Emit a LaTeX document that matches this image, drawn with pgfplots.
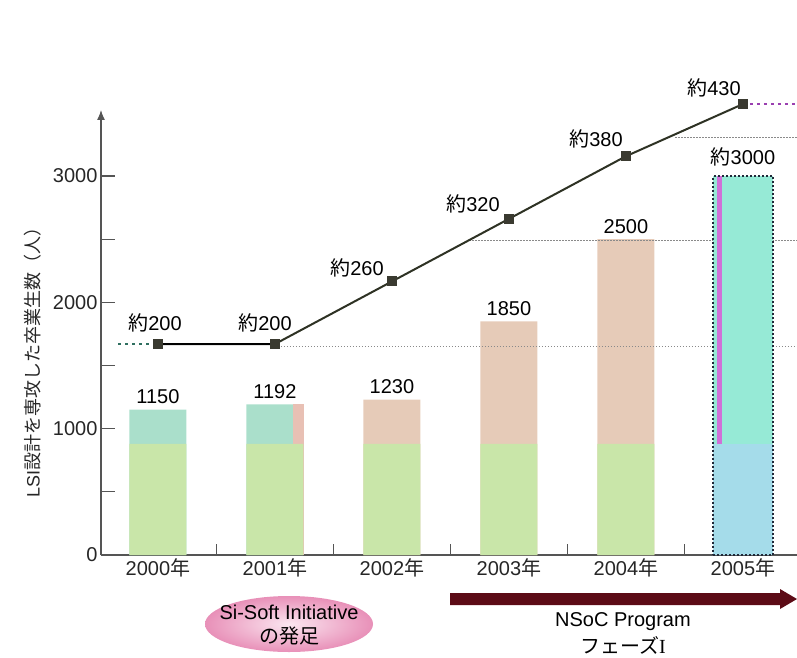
\documentclass[border=0pt]{standalone}
\usepackage{fontspec}
\setmainfont{Liberation Sans}
\newfontfamily\cjk{Noto Sans CJK JP}
\newfontfamily\romanI{Liberation Serif}
\usepackage{pgfplots}
\pgfplotsset{compat=1.18}
\usetikzlibrary{arrows.meta}

\definecolor{axgray}{HTML}{555555}
\definecolor{greenbot}{HTML}{C9E6A9}
\definecolor{tealtop}{HTML}{AADFCB}
\definecolor{pinktop}{HTML}{E6CBB8}
\definecolor{pinkstripe}{HTML}{E8C0B4}
\definecolor{turq}{HTML}{96EAD6}
\definecolor{bluebot}{HTML}{A5DCEA}
\definecolor{magstripe}{HTML}{D070D8}
\definecolor{bordercol}{HTML}{202838}
\definecolor{linecol}{HTML}{2E3224}
\definecolor{markcol}{HTML}{3A3A30}
\definecolor{dotgray}{HTML}{8A8A8A}
\definecolor{dotpurple}{HTML}{9A3FB0}
\definecolor{dotteal}{HTML}{2F6F60}
\definecolor{arrowcol}{HTML}{5C0B16}
\definecolor{ellout}{HTML}{E890B8}
\definecolor{ellin}{HTML}{FBE6F0}

\pgfplotsset{
  base/.style={scale only axis, width=696pt, height=445pt,
    xmin=-0.487, xmax=5.462, clip=false,
    /pgf/number format/assume math mode=true},
  sep/.style={axgray, line width=1.6pt, forget plot},
}
\tikzset{lbl/.style={font=\fontsize{20}{22}\selectfont, inner sep=0pt, anchor=center}}

\begin{document}
\begin{tikzpicture}[font=\fontsize{20}{22}\selectfont]
\useasboundingbox (-101pt,-102pt) rectangle (696pt,555pt);

% bars 2000-2004 and the axes
\begin{axis}[base, ymin=0, ymax=3522,
  axis x line=bottom, axis y line=left,
  axis line style={draw=axgray, line width=1.3pt},
  x axis line style={-},
  y axis line style={-{Latex[length=10pt,width=8pt]}},
  ybar, bar shift=0, bar width=0.487,
  tick align=inside,
  major tick length=14pt,
  tick style={draw=axgray, line width=1.2pt},
  xtick={0,1,2,3,4,5},
  xticklabels={2000{\cjk 年},2001{\cjk 年},2002{\cjk 年},2003{\cjk 年},2004{\cjk 年},2005{\cjk 年}},
  major x tick style={draw=none},
  ytick={0,500,1000,1500,2000,2500,3000},
  yticklabels={0,,1000,,2000,,3000},
  ticklabel style={font=\fontsize{20}{22}\selectfont, text=black!85},
  ylabel={LSI{\cjk 設計を専攻した卒業生数（人）}},
  y label style={at={(axis description cs:-0.098,0.443)}, anchor=center,
    font=\fontsize{18}{20}\selectfont, text=black!85},
]
\addplot[fill=tealtop, draw=none] coordinates {(0,1150) (1,1192)};
\addplot[fill=pinktop, draw=none] coordinates {(2,1230) (3,1850) (4,2500)};
\addplot[fill=pinkstripe, draw=none, bar width=0.094, bar shift=0.197] coordinates {(1,1192)};
\addplot[fill=greenbot, draw=none] coordinates {(0,880) (1,880) (2,880) (3,880) (4,880)};

\node[lbl, yshift=13pt] at (axis cs:0,1150) {1150};
\node[lbl, yshift=13pt] at (axis cs:1,1192) {1192};
\node[lbl, yshift=13pt] at (axis cs:2,1230) {1230};
\node[lbl, yshift=13pt] at (axis cs:3,1850) {1850};
\node[lbl, yshift=13pt] at (axis cs:4,2500) {2500};
\end{axis}

% separators, guide lines and the line (secondary scale)
\begin{axis}[base, ymin=-2.2, ymax=424.3, hide axis]
\addplot[sep] coordinates {(0.5,-2.2) (0.5,8)};
\addplot[sep] coordinates {(1.5,-2.2) (1.5,8)};
\addplot[sep] coordinates {(2.5,-2.2) (2.5,8)};
\addplot[sep] coordinates {(3.5,-2.2) (3.5,8)};
\addplot[sep] coordinates {(4.5,-2.2) (4.5,8)};

\addplot[dotteal, line width=2pt, dash pattern=on 3pt off 4pt] coordinates {(-0.34,200) (-0.07,200)};
\addplot[dotgray, line width=1.2pt, dash pattern=on 1.5pt off 1.5pt] coordinates {(1,198) (5.462,198)};
\addplot[dotgray, line width=1.2pt, dash pattern=on 1.5pt off 1.5pt] coordinates {(2.66,299) (5.462,299)};
\addplot[dotgray, line width=1.2pt, dash pattern=on 1.5pt off 1.5pt] coordinates {(4.42,398) (5.462,398)};
\addplot[dotpurple, line width=2.2pt, dash pattern=on 3pt off 4pt] coordinates {(5,430) (5.462,430)};

\addplot[linecol, line width=2pt, mark=square*, mark size=4pt,
  mark options={fill=markcol, draw=markcol, solid}]
  coordinates {(0,200) (1,200) (2,260) (3,320) (4,380) (5,430)};
\addplot[black, line width=2.2pt, mark=square*, mark size=4pt,
  mark options={fill=markcol, draw=markcol}]
  coordinates {(0,200) (1,200)};

\node[lbl, xshift=-3pt, yshift=21pt] at (axis cs:0,200) {{\cjk 約}200};
\node[lbl, xshift=-10pt, yshift=21pt] at (axis cs:1,200) {{\cjk 約}200};
\node[lbl, xshift=-35pt, yshift=14pt] at (axis cs:2,260) {{\cjk 約}260};
\node[lbl, xshift=-36pt, yshift=15pt] at (axis cs:3,320) {{\cjk 約}320};
\node[lbl, xshift=-30pt, yshift=17pt] at (axis cs:4,380) {{\cjk 約}380};
\node[lbl, xshift=-29pt, yshift=16pt] at (axis cs:5,430) {{\cjk 約}430};
\end{axis}

% the 2005 bar sits over the guide lines
\begin{axis}[base, ymin=0, ymax=3522, hide axis, ybar, bar shift=0, bar width=0.51]
\addplot[fill=turq, draw=none] coordinates {(5,3000)};
\addplot[fill=magstripe, draw=none, bar width=0.05, bar shift=-0.2] coordinates {(5,3000)};
\addplot[fill=bluebot, draw=none] coordinates {(5,880)};
\addplot[fill=none, draw=bordercol, line width=2.4pt, dash pattern=on 2pt off 2pt] coordinates {(5,3000)};
\node[lbl, yshift=19pt] at (axis cs:5,3000) {{\cjk 約}3000};
\end{axis}

% programme notes under the axis
\shade[inner color=ellin, outer color=ellout] (188pt,-69pt) ellipse (84pt and 28pt);
\node[lbl] at (188pt,-57pt) {Si-Soft Initiative};
\node[lbl] at (188pt,-81pt) {\cjk の発足};

\fill[arrowcol] (349pt,-38pt) -- (679pt,-38pt) -- (679pt,-34pt) -- (696pt,-44pt)
  -- (679pt,-54pt) -- (679pt,-50pt) -- (349pt,-50pt) -- cycle;
\node[lbl] at (522pt,-67pt) {NSoC Program};
\node[lbl] at (522pt,-90pt) {{\cjk フェーズ}{\romanI I}};
\end{tikzpicture}
\end{document}
